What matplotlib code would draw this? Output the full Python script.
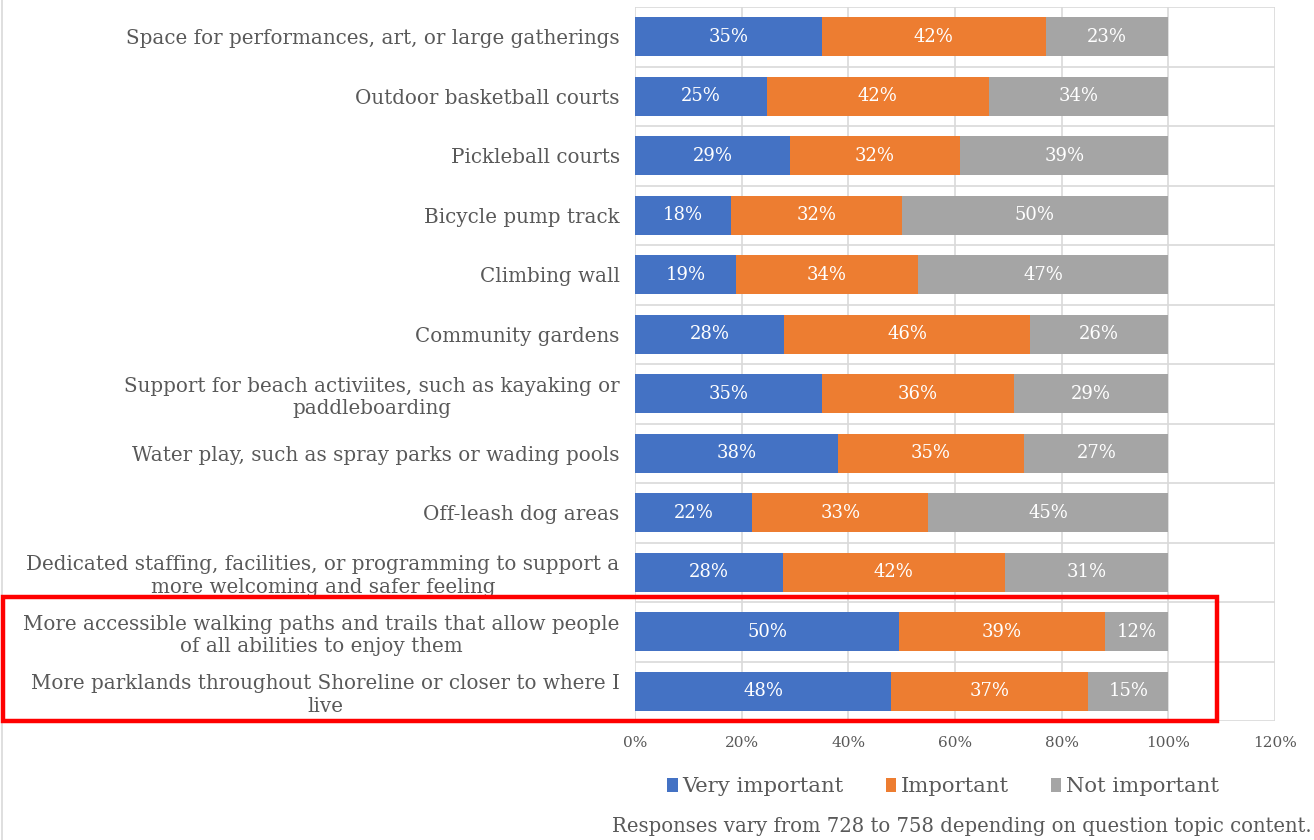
import matplotlib
matplotlib.use("Agg")
import matplotlib.pyplot as plt
from matplotlib.patches import Patch, Rectangle
from matplotlib.lines import Line2D
import numpy as np

categories = [
    "Space for performances, art, or large gatherings",
    "Outdoor basketball courts",
    "Pickleball courts",
    "Bicycle pump track",
    "Climbing wall",
    "Community gardens",
    "Support for beach activiites, such as kayaking or\npaddleboarding",
    "Water play, such as spray parks or wading pools",
    "Off-leash dog areas",
    "Dedicated staffing, facilities, or programming to support a\nmore welcoming and safer feeling",
    "More accessible walking paths and trails that allow people\nof all abilities to enjoy them",
    "More parklands throughout Shoreline or closer to where I\nlive",
]
very_important = [35, 25, 29, 18, 19, 28, 35, 38, 22, 28, 50, 48]
important = [42, 42, 32, 32, 34, 46, 36, 35, 33, 42, 39, 37]
not_important = [23, 34, 39, 50, 47, 26, 29, 27, 45, 31, 12, 15]
series_names = ["Very important", "Important", "Not important"]
colors = ["#4472C4", "#ED7D31", "#A5A5A5"]
x_ticks = [0, 20, 40, 60, 80, 100, 120]
note = "Responses vary from 728 to 758 depending on question topic content."

FONT = "DejaVu Serif"
TXT = "#595959"
GRID = "#D9D9D9"

plt.rcParams["font.family"] = FONT

W, H = 1314, 840
fig = plt.figure(figsize=(W / 100, H / 100), dpi=100)
ax = fig.add_axes([635 / W, 1 - 721 / H, 640 / W, 714 / H])

raw = np.array([very_important, important, not_important], dtype=float)
# 100% stacked: each row scaled to its own total
shares = raw / raw.sum(axis=0) * 100
y = np.arange(len(categories))

left = np.zeros(len(categories))
for i in range(3):
    ax.barh(y, shares[i], left=left, height=0.66, color=colors[i],
            label=series_names[i], zorder=3)
    for yi, l, w, v in zip(y, left, shares[i], raw[i]):
        ax.text(l + w / 2, yi, f"{int(v)}%", ha="center", va="center",
                color="white", fontsize=13, zorder=4)
    left += shares[i]

ax.set_xlim(0, 120)
ax.set_ylim(len(categories) - 0.5, -0.5)
ax.set_xticks(x_ticks)
ax.set_xticklabels([f"{t}%" for t in x_ticks], color=TXT, fontsize=11)
ax.set_yticks(y)
ax.set_yticklabels(categories, color=TXT, fontsize=14.3)
for lab in ax.get_yticklabels():
    lab.set_multialignment("center")
    lab.set_linespacing(1.25)
ax.set_yticks(np.arange(len(categories) + 1) - 0.5, minor=True)
ax.tick_params(axis="both", which="both", length=0)
ax.tick_params(axis="x", pad=11)
ax.tick_params(axis="y", pad=11)
ax.grid(axis="x", which="major", color=GRID, linewidth=1.2, zorder=0)
ax.grid(axis="y", which="minor", color=GRID, linewidth=1.2, zorder=0)
for s in ax.spines.values():
    s.set_visible(False)

handles = [Patch(facecolor=c, edgecolor="none") for c in colors]
fig.legend(handles, series_names, loc="center", ncol=3,
           bbox_to_anchor=(943 / W, 1 - 787 / H), frameon=False,
           fontsize=15.2, handlelength=0.5, handleheight=0.65,
           handletextpad=0.2, columnspacing=2.0, labelcolor=TXT)

fig.text(1312 / W, 1 - 826 / H, note, ha="right", va="center",
         color=TXT, fontsize=14.1)

# chart frame edge on the left
fig.add_artist(Line2D([1.5 / W, 1.5 / W], [0, 1], color=GRID, linewidth=1.2))

# highlight box around the last two items
fig.add_artist(Rectangle((3 / W, 1 - 721 / H), 1214 / W, 124 / H,
                         fill=False, edgecolor="#FF0000", linewidth=3.2,
                         zorder=10))

fig.savefig("out.png", dpi=100)
